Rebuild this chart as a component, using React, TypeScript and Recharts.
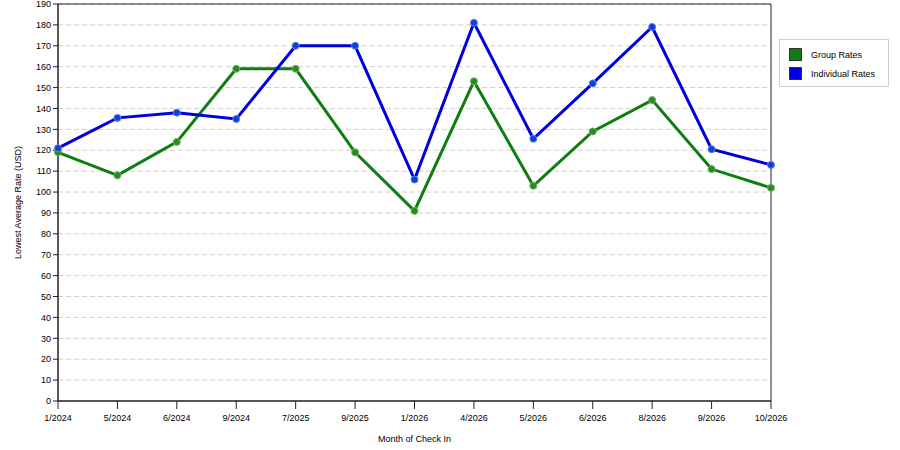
import React from "react";
import {
  LineChart,
  Line,
  XAxis,
  YAxis,
  CartesianGrid,
  ReferenceArea,
} from "recharts";

// Lowest average rate per check-in month, group vs individual.

const months = [
  "1/2024", "5/2024", "6/2024", "9/2024", "7/2025", "9/2025", "1/2026",
  "4/2026", "5/2026", "6/2026", "8/2026", "9/2026", "10/2026",
];
const groupRates = [119, 108, 124, 159, 159, 119, 91, 153, 103, 129, 144, 111, 102];
const individualRates = [121, 135.5, 138, 135, 170, 170, 106, 181, 125.5, 152, 179, 120.5, 113];
const yTicks = [0, 10, 20, 30, 40, 50, 60, 70, 80, 90, 100, 110, 120, 130, 140, 150, 160, 170, 180, 190];

const GREEN = "#0f7d0f";
const BLUE = "#0000dd";
const FONT = "'Liberation Sans', Arial, sans-serif";

const data = months.map((m, i) => ({
  month: m,
  group: groupRates[i],
  individual: individualRates[i],
}));

function LegendBox() {
  const items = [
    { label: "Group Rates", color: GREEN },
    { label: "Individual Rates", color: BLUE },
  ];
  return (
    <div
      style={{
        position: "absolute",
        left: 779,
        top: 39,
        width: 110,
        height: 48,
        border: "1px solid #cfcfcf",
        background: "#fff",
        boxSizing: "border-box",
        padding: "5px 0 0 9px",
        fontFamily: FONT,
        fontSize: 9,
        color: "#000",
      }}
    >
      {items.map((it) => (
        <div key={it.label} style={{ display: "flex", alignItems: "center", height: 19 }}>
          <span
            style={{
              width: 13,
              height: 13,
              background: it.color,
              border: "1px solid #333",
              boxSizing: "border-box",
              marginRight: 9,
            }}
          />
          {it.label}
        </div>
      ))}
    </div>
  );
}

const tickStyle = { fontSize: 9, fill: "#000", fontFamily: FONT };

export default function App() {
  return (
    <div style={{ position: "absolute", left: 0, top: 0, width: 900, height: 450, background: "#fff" }}>
      <LineChart
        width={900}
        height={450}
        data={data}
        margin={{ top: 4, right: 129, left: 0, bottom: 0 }}
      >
        <CartesianGrid
          horizontal
          vertical={false}
          stroke="#d0d0d0"
          strokeDasharray="5 3"
        />
        <XAxis
          dataKey="month"
          height={49}
          tick={tickStyle}
          tickLine={{ stroke: "#222" }}
          tickSize={8}
          tickMargin={6}
          axisLine={{ stroke: "#222" }}
          interval={0}
          label={{
            value: "Month of Check In",
            position: "insideBottom",
            offset: 8,
            style: { fontSize: 9, fill: "#000", fontFamily: FONT },
          }}
        />
        <YAxis
          width={58}
          domain={[0, 190]}
          ticks={yTicks}
          interval={0}
          tick={tickStyle}
          tickLine={{ stroke: "#222" }}
          tickSize={5}
          axisLine={{ stroke: "#222" }}
          label={{
            value: "Lowest Average Rate (USD)",
            angle: -90,
            position: "insideLeft",
            offset: 18,
            style: { fontSize: 9, fill: "#000", fontFamily: FONT, textAnchor: "middle" },
          }}
        />
        <ReferenceArea
          x1={months[0]}
          x2={months[months.length - 1]}
          y1={0}
          y2={190}
          fill="none"
          stroke="#222"
          strokeWidth={1}
          ifOverflow="visible"
        />
        <Line
          dataKey="group"
          name="Group Rates"
          stroke={GREEN}
          strokeWidth={3}
          dot={{ r: 3.5, fill: "#2a8a22", stroke: "#6cb25e", strokeWidth: 1 }}
          isAnimationActive={false}
        />
        <Line
          dataKey="individual"
          name="Individual Rates"
          stroke={BLUE}
          strokeWidth={3}
          dot={{ r: 3.5, fill: "#1040d8", stroke: "#5a86e8", strokeWidth: 1 }}
          isAnimationActive={false}
        />
      </LineChart>
      <LegendBox />
    </div>
  );
}
